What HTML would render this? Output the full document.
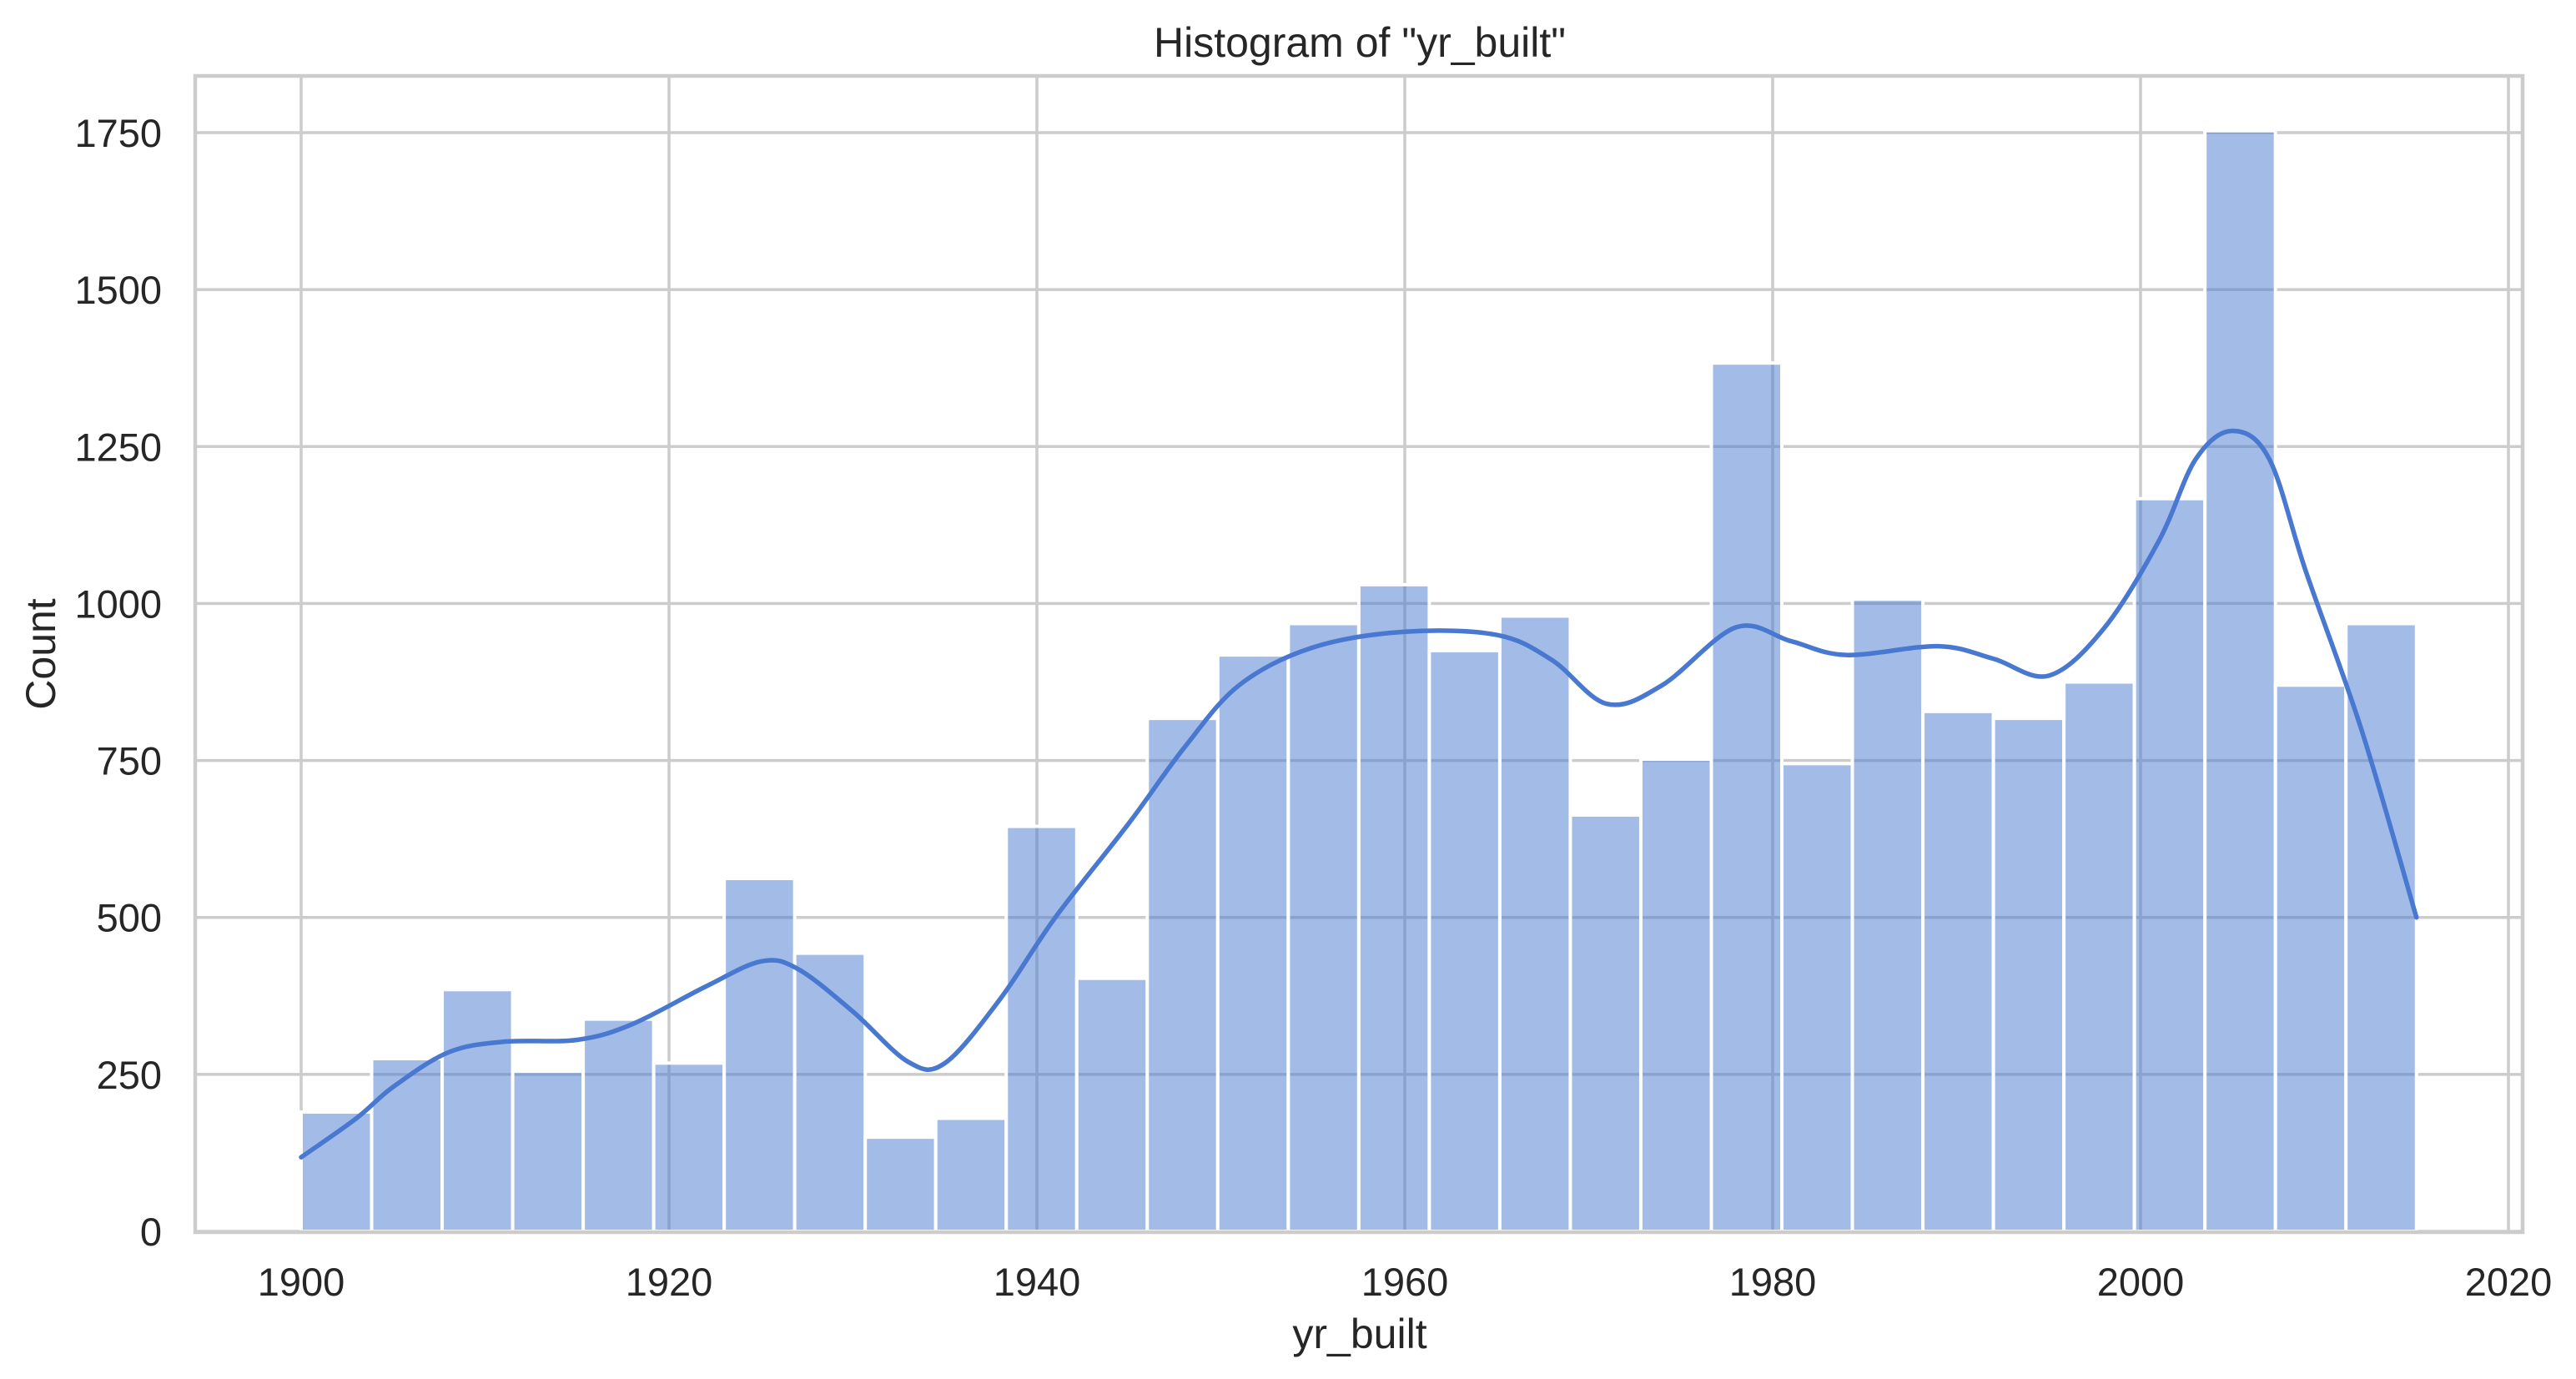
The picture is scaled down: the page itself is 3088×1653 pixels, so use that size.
<!DOCTYPE html>
<html><head><meta charset="utf-8">
<style>
html,body{margin:0;padding:0;background:#fff;}
svg{display:block;font-family:"Liberation Sans",Arial,sans-serif;}
</style></head>
<body>
<svg id="chart" width="3088" height="1653" viewBox="0 0 3088 1653" xmlns="http://www.w3.org/2000/svg">
  <rect x="0" y="0" width="3088" height="1653" fill="#ffffff"/>
  <g id="grid"></g>
  <g id="bars"></g>
  <g id="kde"></g>
  <g id="spines"></g>
  <g id="ticks"></g>
  <text x="1630" y="68" font-size="50" text-anchor="middle" fill="#262626">Histogram of "yr_built"</text>
  <text x="1630" y="1616" font-size="50" text-anchor="middle" fill="#262626">yr_built</text>
  <text x="0" y="0" font-size="50" text-anchor="middle" fill="#262626" transform="translate(66,784) rotate(-90)">Count</text>
</svg>
<script>
const binStart = 1900;
const binEnd = 2015;
const counts = [190, 275, 385, 255, 338, 268, 562, 443, 150, 180, 645, 403, 817, 918, 968, 1030, 925, 980, 663, 752, 1383, 745, 1007, 828, 817, 875, 1167, 1753, 870, 968];
const kdeYears = [1900, 1903, 1905, 1908, 1911, 1915, 1918, 1922, 1925, 1927, 1930, 1933, 1935, 1938, 1941, 1945, 1948, 1951, 1955, 1960, 1965, 1968, 1971, 1974, 1978, 1981, 1984, 1989, 1992, 1995, 1998, 2001, 2003, 2005, 2007, 2009, 2012, 2015];
const kdeValues = [118, 180, 230, 285, 302, 305, 330, 390, 430, 418, 350, 270, 268, 370, 500, 650, 770, 870, 930, 955, 950, 910, 840, 870, 962, 940, 918, 932, 912, 885, 960, 1100, 1230, 1275, 1230, 1050, 800, 500];
const xTicks = [1900, 1920, 1940, 1960, 1980, 2000, 2020];
const yTicks = [0, 250, 500, 750, 1000, 1250, 1500, 1750];

const L = 234, R = 3024, T = 91, B = 1477;
const x = v => 361 + (v - 1900) * 22.05;
const y = v => 1476 - v * (1476 - 159) / 1750;
const NS = 'http://www.w3.org/2000/svg';
function mk(tag, attrs, parent) {
  const e = document.createElementNS(NS, tag);
  for (const k in attrs) e.setAttribute(k, attrs[k]);
  parent.appendChild(e);
  return e;
}
const grid = document.getElementById('grid');
xTicks.forEach(t => {
  const l = mk('line', {x1: x(t), x2: x(t), y1: T, y2: B, stroke: '#cccccc', 'stroke-width': 3.5}, grid);
  
  
});
yTicks.forEach(t => {
  const l = mk('line', {x1: L, x2: R, y1: y(t), y2: y(t), stroke: '#cccccc', 'stroke-width': 3.5}, grid);
  
  
});
const bars = document.getElementById('bars');
const bw = (binEnd - binStart) / counts.length;
counts.forEach((c, i) => {
  const x0 = x(binStart + i * bw), x1 = x(binStart + (i + 1) * bw);
  const r = mk('rect', {x: x0, y: y(c), width: x1 - x0, height: y(0) - y(c), fill: 'rgba(72,120,208,0.5)', stroke: '#ffffff', 'stroke-width': 4}, bars);
  
  
});
const kde = document.getElementById('kde');
let pts = kdeYears.map((yr, i) => [x(yr), y(kdeValues[i])]);
let d = 'M' + pts[0][0] + ',' + pts[0][1];
for (let i = 0; i < pts.length - 1; i++) {
  const p0 = pts[Math.max(i - 1, 0)], p1 = pts[i], p2 = pts[i + 1], p3 = pts[Math.min(i + 2, pts.length - 1)];
  const c1 = [p1[0] + (p2[0] - p0[0]) / 6, p1[1] + (p2[1] - p0[1]) / 6];
  const c2 = [p2[0] - (p3[0] - p1[0]) / 6, p2[1] - (p3[1] - p1[1]) / 6];
  d += ' C' + c1[0] + ',' + c1[1] + ' ' + c2[0] + ',' + c2[1] + ' ' + p2[0] + ',' + p2[1];
}
const path = mk('path', {d: d, fill: 'none', stroke: '#4878d0', 'stroke-width': 5.5, 'stroke-linejoin': 'round', 'stroke-linecap': 'round'}, kde);


const sp = document.getElementById('spines');
const frame = mk('rect', {x: L, y: T, width: R - L, height: B - T, fill: 'none', stroke: '#cccccc', 'stroke-width': 4.5}, sp);


const ticks = document.getElementById('ticks');
xTicks.forEach(t => {
  const tx = mk('text', {x: x(t), y: 1553, 'font-size': 47, 'text-anchor': 'middle', fill: '#262626'}, ticks);
  tx.textContent = t;
  
  
});
yTicks.forEach(t => {
  const tx = mk('text', {x: 194, y: y(t) + 17, 'font-size': 47, 'text-anchor': 'end', fill: '#262626'}, ticks);
  tx.textContent = t;
  
  
});
</script>
</body></html>
